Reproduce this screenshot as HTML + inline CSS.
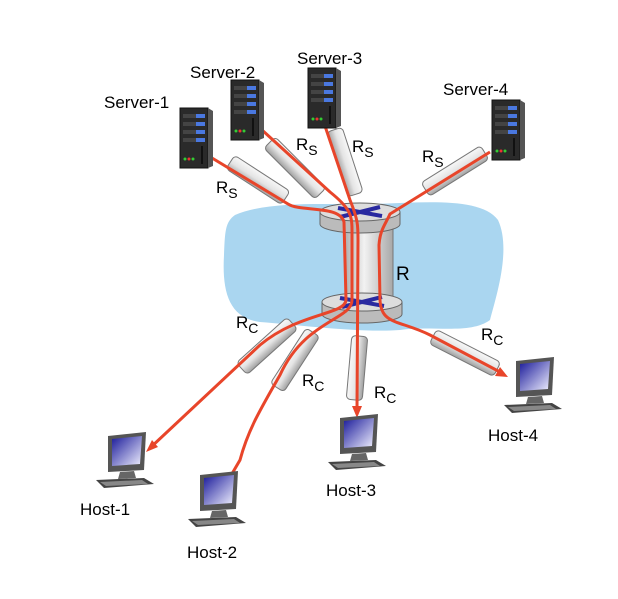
<!DOCTYPE html>
<html><head><meta charset="utf-8"><style>
html,body{margin:0;padding:0;background:#fff;}
svg{display:block;font-family:"Liberation Sans",sans-serif;}
</style></head><body>
<svg width="618" height="599" viewBox="0 0 618 599" xmlns="http://www.w3.org/2000/svg">
<defs>
<linearGradient id="pipe" x1="0" y1="0" x2="0" y2="1"><stop offset="0" stop-color="#f8f8f8"/><stop offset="0.5" stop-color="#e4e4e4"/><stop offset="1" stop-color="#a0a0a0"/></linearGradient>
<linearGradient id="col" x1="0" y1="0" x2="1" y2="0"><stop offset="0" stop-color="#b0b0b0"/><stop offset="0.4" stop-color="#f2f2f2"/><stop offset="1" stop-color="#a8a8a8"/></linearGradient>
<linearGradient id="scr" x1="0" y1="0" x2="1" y2="1"><stop offset="0" stop-color="#1a1a9a"/><stop offset="1" stop-color="#f0f0ff"/></linearGradient>
<g id="server">
<rect x="0" y="0" width="28" height="60" fill="#2a2a2a" stroke="#111"/>
<polygon points="28,0 33,3 33,58 28,60" fill="#555"/>
<rect x="3" y="6" width="22" height="4" fill="#444"/><rect x="16" y="6" width="9" height="4" fill="#4a78e0"/>
<rect x="3" y="14" width="22" height="4" fill="#444"/><rect x="16" y="14" width="9" height="4" fill="#4a78e0"/>
<rect x="3" y="22" width="22" height="4" fill="#444"/><rect x="16" y="22" width="9" height="4" fill="#4a78e0"/>
<rect x="3" y="30" width="22" height="4" fill="#444"/><rect x="16" y="30" width="9" height="4" fill="#4a78e0"/>
<rect x="21" y="38" width="2" height="18" fill="#111"/>
<circle cx="5" cy="51" r="1.5" fill="#3c3"/><circle cx="9" cy="51" r="1.5" fill="#e33"/><circle cx="13" cy="51" r="1.5" fill="#3c3"/>
</g>
<g id="host">
<polygon points="4,0 42,-4 40,34 4,36" fill="#555"/>
<polygon points="8,3 38,0 36,28 8,30" fill="url(#scr)"/>
<polygon points="16,36 30,35 32,42 14,43" fill="#666"/>
<polygon points="-8,44 40,42 50,48 0,52" fill="#444"/>
<polygon points="-4,46 38,44 44,48 2,50" fill="#888"/>
</g>
</defs>
<path d="M235 215 C270 200 330 205 370 204 C420 203 480 196 498 220 C512 250 495 300 490 320 C470 335 430 325 400 330 C360 333 300 325 260 322 C228 318 222 290 224 255 C225 232 225 222 235 215Z" fill="#aad6f0"/>
<g stroke="#777" stroke-width="1">
<g transform="translate(258,180) rotate(33)"><rect x="-33" y="-8" width="66" height="16" rx="4" fill="url(#pipe)"/></g>
<g transform="translate(295,168) rotate(45)"><rect x="-36" y="-8" width="72" height="16" rx="4" fill="url(#pipe)"/></g>
<g transform="translate(345,162) rotate(72)"><rect x="-34" y="-8" width="68" height="16" rx="4" fill="url(#pipe)"/></g>
<g transform="translate(455,171) rotate(-32)"><rect x="-35" y="-8" width="70" height="16" rx="4" fill="url(#pipe)"/></g>
<g transform="translate(267,346) rotate(-42)"><rect x="-34" y="-8" width="68" height="16" rx="4" fill="url(#pipe)"/></g>
<g transform="translate(295,360) rotate(-57)"><rect x="-33" y="-8" width="66" height="16" rx="4" fill="url(#pipe)"/></g>
<g transform="translate(357,368) rotate(-85)"><rect x="-32" y="-8" width="64" height="16" rx="4" fill="url(#pipe)"/></g>
<g transform="translate(465,353) rotate(27)"><rect x="-36" y="-8" width="72" height="16" rx="4" fill="url(#pipe)"/></g>
</g>
<rect x="345" y="224" width="48" height="78" fill="url(#col)" stroke="#777"/>
<path d="M320 212 v12 a40 9 0 0 0 80 0 v-12" fill="#bbb" stroke="#666"/>
<ellipse cx="360" cy="212" rx="40" ry="9" fill="#ddd" stroke="#666"/>
<path d="M338 208 L382 216 M380 207 L340 217" stroke="#2a2aa0" stroke-width="4"/>
<path d="M322 302 v12 a40 9 0 0 0 80 0 v-12" fill="#bbb" stroke="#666"/>
<ellipse cx="362" cy="302" rx="40" ry="9" fill="#ddd" stroke="#666"/>
<path d="M340 298 L384 306 M382 297 L342 307" stroke="#2a2aa0" stroke-width="4"/>
<g fill="none" stroke="#e8452a" stroke-width="3">
<path d="M212 158 L288 204 C300 212 340 205 344 222 L346 300 C345 315 300 312 260 345 L150 448"/>
<path d="M262 130 L330 192 C350 208 352 215 352 230 L352 300 C352 320 305 320 280 375 C260 410 248 430 240 460 L226 484"/>
<path d="M325 126 L350 200 C358 220 358 225 358 240 L357 410"/>
<path d="M490 152 L390 214 C385 225 380 230 379 245 L380 300 C381 325 400 320 430 335 L500 372"/>
</g>
<g fill="#e8452a">
<polygon points="146,452 152,440 158,447"/>
<polygon points="222,490 224,478 231,483"/>
<polygon points="357,418 352,406 362,406"/>
<polygon points="508,377 495,376 500,367"/>
</g>
<use href="#server" x="180" y="108"/>
<use href="#server" x="231" y="80"/>
<use href="#server" x="308" y="68"/>
<use href="#server" x="492" y="100"/>
<use href="#host" x="104" y="436"/>
<use href="#host" x="196" y="475"/>
<use href="#host" x="336" y="418"/>
<use href="#host" x="512" y="361"/>
<g font-size="17" fill="#000">
<text x="104" y="108">Server-1</text>
<text x="190" y="78">Server-2</text>
<text x="297" y="64">Server-3</text>
<text x="443" y="95">Server-4</text>
<text x="80" y="515">Host-1</text>
<text x="187" y="558">Host-2</text>
<text x="326" y="496">Host-3</text>
<text x="488" y="441">Host-4</text>
<text x="396" y="280" font-size="19">R</text>
<text x="216" y="193">R<tspan font-size="14" dy="5">S</tspan></text>
<text x="296" y="150">R<tspan font-size="14" dy="5">S</tspan></text>
<text x="352" y="152">R<tspan font-size="14" dy="5">S</tspan></text>
<text x="422" y="162">R<tspan font-size="14" dy="5">S</tspan></text>
<text x="236" y="328">R<tspan font-size="14" dy="5">C</tspan></text>
<text x="302" y="386">R<tspan font-size="14" dy="5">C</tspan></text>
<text x="374" y="398">R<tspan font-size="14" dy="5">C</tspan></text>
<text x="481" y="340">R<tspan font-size="14" dy="5">C</tspan></text>
</g>
</svg>
</body></html>
